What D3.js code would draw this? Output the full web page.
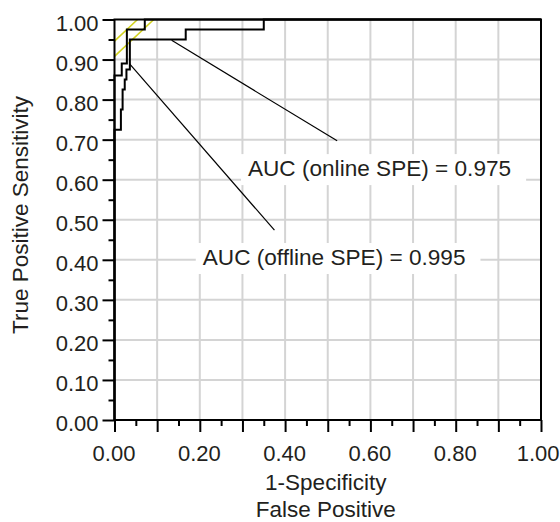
<!DOCTYPE html>
<html>
<head>
<meta charset="utf-8">
<script src="https://cdn.jsdelivr.net/npm/d3@7"></script>
<style>
  body { margin: 0; background: #fff; }
  text { font-family: "Liberation Sans", Arial, Helvetica, sans-serif; fill: #231f20; }
</style>
</head>
<body>
<svg id="chart" width="560" height="522"></svg>
<script>
// ROC operating points (1-specificity, sensitivity); steps rise before they run
const onlineFpr  = [0, 0.015, 0.019, 0.024, 0.028, 0.036, 0.167, 0.35, 1];
const onlineTpr  = [0, 0.725, 0.775, 0.825, 0.85, 0.875, 0.95, 0.975, 1];
const offlineFpr = [0, 0.017, 0.029, 0.071, 1];
const offlineTpr = [0, 0.86, 0.89, 0.975, 1];

// Youden tangent lines (sensitivity - (1-specificity) at the best cut-off)
const tangentIntercepts = [0.946, 0.908];

// AUC call-outs
const calloutLabels = ["AUC (online SPE)", "AUC (offline SPE)"];
const aucValues     = ["0.975", "0.995"];
const leaderFrom    = [[0.134, 0.948], [0.035, 0.89]];
const leaderTo      = [[0.522, 0.697], [0.375, 0.474]];
const labelAnchor   = [[0.313, 0.609], [0.207, 0.387]];

// Axis ticks
const majorTicks = d3.range(0, 11).map(i => i / 10);
const minorTicks = d3.range(0, 10).map(i => i / 10 + 0.05);
const xLabelled  = [0, 0.2, 0.4, 0.6, 0.8, 1.0];

const W = 560, H = 522;
const svg = d3.select("#chart");
const plotLeft = 114.5, plotRight = 541, plotTop = 19.5, plotBottom = 420;

const x = d3.scaleLinear().domain([0, 1]).range([plotLeft, plotRight]);
const y = d3.scaleLinear().domain([0, 1]).range([plotBottom, plotTop]);

// grid
const grid = svg.append("g").attr("stroke", "#d4d4d4").attr("stroke-width", 2);
grid.selectAll("line.v").data(majorTicks.slice(1, -1)).join("line").attr("class", "v")
  .attr("x1", d => x(d)).attr("x2", d => x(d)).attr("y1", y(0)).attr("y2", y(1));
grid.selectAll("line.h").data(majorTicks.slice(1, -1)).join("line").attr("class", "h")
  .attr("x1", x(0)).attr("x2", x(1)).attr("y1", d => y(d)).attr("y2", d => y(d));

// tangent lines
svg.append("g").selectAll("line").data(tangentIntercepts).join("line")
  .attr("x1", x(0)).attr("y1", d => y(d))
  .attr("x2", d => x(1 - d)).attr("y2", y(1))
  .attr("stroke", "#d2d21e").attr("stroke-width", 1.6);

// ROC curves
const line = d3.line().x(d => x(d[0])).y(d => y(d[1])).curve(d3.curveStepBefore);
const curves = [d3.zip(offlineFpr, offlineTpr), d3.zip(onlineFpr, onlineTpr)];
svg.append("g").selectAll("path").data(curves).join("path")
  .attr("d", line).attr("fill", "none")
  .attr("stroke", "#000").attr("stroke-width", 2).attr("stroke-linejoin", "miter");

// leader lines
svg.append("g").selectAll("line").data(d3.range(leaderFrom.length)).join("line")
  .attr("x1", i => x(leaderFrom[i][0])).attr("y1", i => y(leaderFrom[i][1]))
  .attr("x2", i => x(leaderTo[i][0])).attr("y2", i => y(leaderTo[i][1]))
  .attr("stroke", "#000").attr("stroke-width", 1.2);

// call-out labels on white boxes
const callouts = svg.append("g").selectAll("g").data(d3.range(calloutLabels.length)).join("g");
callouts.append("rect").attr("fill", "#fff");
callouts.append("text")
  .attr("x", i => x(labelAnchor[i][0])).attr("y", i => y(labelAnchor[i][1]))
  .attr("font-size", 22.6)
  .text(i => `${calloutLabels[i]} = ${aucValues[i]}`);
callouts.each(function () {
  const g = d3.select(this);
  const b = g.select("text").node().getBBox();
  g.select("rect").attr("x", b.x - 7).attr("width", b.width + 22)
    .attr("y", b.y - 2).attr("height", b.height + 6);
});

// frame
svg.append("rect")
  .attr("x", x(0)).attr("y", y(1)).attr("width", x(1) - x(0)).attr("height", y(0) - y(1))
  .attr("fill", "none").attr("stroke", "#000").attr("stroke-width", 2);

// x axis
const xMajor = svg.append("g").attr("transform", `translate(0,${y(0)})`)
  .call(d3.axisBottom(x).tickValues(majorTicks).tickSize(12)
    .tickFormat(d => xLabelled.some(v => Math.abs(v - d) < 1e-9) ? d3.format(".2f")(d) : ""));
const xMinor = svg.append("g").attr("transform", `translate(0,${y(0)})`)
  .call(d3.axisBottom(x).tickValues(minorTicks).tickSize(6).tickFormat(""));
xMajor.selectAll("text").attr("y", 41).attr("dy", null).attr("font-size", 22).attr("x", -1);
// keep the last label inside the canvas
xMajor.selectAll(".tick").filter(d => d === 1).select("text")
  .attr("text-anchor", "end").attr("x", W - 1 - x(1));

// y axis
const yMajor = svg.append("g").attr("transform", `translate(${x(0)},0)`)
  .call(d3.axisLeft(y).tickValues(majorTicks).tickSize(12).tickFormat(d3.format(".2f")));
const yMinor = svg.append("g").attr("transform", `translate(${x(0)},0)`)
  .call(d3.axisLeft(y).tickValues(minorTicks).tickSize(6).tickFormat(""));
yMajor.selectAll("text").attr("x", -16).attr("dy", null).attr("y", 10.5).attr("font-size", 22);

[xMajor, xMinor, yMajor, yMinor].forEach(g => {
  g.select(".domain").remove();
  g.selectAll(".tick line").attr("stroke", "#000").attr("stroke-width", 2);
  g.attr("font-family", null);
});

// axis titles
const titleX = (plotLeft + plotRight) / 2 - 2;
svg.append("text").attr("x", titleX).attr("y", 490).attr("text-anchor", "middle")
  .attr("font-size", 22.5).text("1-Specificity");
svg.append("text").attr("x", titleX).attr("y", 516.5).attr("text-anchor", "middle")
  .attr("font-size", 22.5).text("False Positive");
svg.append("text").attr("transform", "translate(28,215) rotate(-90)")
  .attr("text-anchor", "middle").attr("font-size", 22.5).text("True Positive Sensitivity");
</script>
</body>
</html>
